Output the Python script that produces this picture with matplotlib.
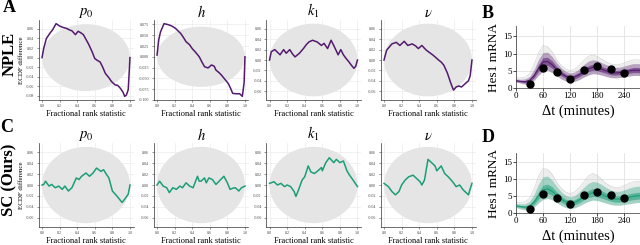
import matplotlib.pyplot as plt
from matplotlib.patches import Ellipse

plt.rcParams['font.family'] = ['Liberation Serif', 'DejaVu Serif']
plt.rcParams['mathtext.fontset'] = 'stix'

# ---- ECDF difference curves ----
npl_p0_x = [0.0, 0.02, 0.05, 0.09, 0.12, 0.16, 0.2, 0.24, 0.28, 0.31, 0.34, 0.38, 0.41, 0.44, 0.47, 0.5, 0.53,
            0.57, 0.6, 0.63, 0.66, 0.69, 0.72, 0.76, 0.79, 0.83, 0.86, 0.89, 0.92, 0.94, 0.96, 0.98, 1.0]
npl_p0_y = [0.0, 0.02, 0.04, 0.051, 0.058, 0.071, 0.066, 0.063, 0.061, 0.058, 0.056, 0.048, 0.055, 0.052, 0.048,
            0.038, 0.028, 0.012, -0.002, -0.006, -0.009, -0.02, -0.033, -0.042, -0.05, -0.057, -0.058, -0.064,
            -0.072, -0.081, -0.078, -0.067, 0.0]

npl_h_x = [0.0, 0.02, 0.04, 0.08, 0.12, 0.15, 0.18, 0.21, 0.24, 0.27, 0.3, 0.33, 0.37, 0.4, 0.44, 0.48, 0.51,
           0.54, 0.58, 0.62, 0.65, 0.67, 0.7, 0.73, 0.77, 0.81, 0.84, 0.86, 0.9, 0.94, 0.97, 0.99, 1.0]
npl_h_y = [0.004, 0.04, 0.058, 0.077, 0.075, 0.073, 0.07, 0.066, 0.06, 0.054, 0.045, 0.035, 0.028, 0.019, 0.01,
           0.0, -0.012, -0.023, -0.026, -0.019, -0.022, -0.031, -0.036, -0.042, -0.052, -0.062, -0.075, -0.085,
           -0.086, -0.086, -0.092, -0.06, 0.0]

npl_k1_x = [0.0, 0.02, 0.06, 0.09, 0.12, 0.16, 0.19, 0.23, 0.26, 0.29, 0.34, 0.39, 0.42, 0.45, 0.49, 0.52,
            0.54, 0.59, 0.62, 0.66, 0.7, 0.73, 0.78, 0.81, 0.84, 0.87, 0.9, 0.93, 0.96, 0.98, 1.0]
npl_k1_y = [0.0, 0.016, 0.02, 0.015, 0.01, 0.02, 0.013, 0.02, 0.012, 0.006, 0.013, 0.023, 0.03, 0.035, 0.038,
            0.036, 0.035, 0.028, 0.032, 0.022, 0.038, 0.028, 0.01, 0.02, 0.01, 0.003, -0.003, -0.01, -0.016,
            -0.012, 0.0]

npl_v_x = [0.0, 0.03, 0.06, 0.09, 0.14, 0.18, 0.23, 0.27, 0.32, 0.36, 0.39, 0.43, 0.48, 0.52, 0.56, 0.62, 0.65,
           0.68, 0.72, 0.76, 0.79, 0.82, 0.85, 0.88, 0.92, 0.96, 0.98, 1.0]
npl_v_y = [0.0, 0.019, 0.025, 0.031, 0.034, 0.028, 0.036, 0.028, 0.031, 0.027, 0.022, 0.028, 0.019, 0.014,
           0.009, 0.0, -0.004, -0.01, -0.025, -0.045, -0.058, -0.052, -0.05, -0.052, -0.046, -0.04, -0.03, 0.0]

sc_p0_x = [0.0, 0.02, 0.04, 0.08, 0.11, 0.15, 0.19, 0.23, 0.26, 0.3, 0.34, 0.39, 0.42, 0.45, 0.5, 0.54, 0.58,
           0.62, 0.67, 0.7, 0.73, 0.76, 0.8, 0.85, 0.88, 0.91, 0.94, 0.98, 1.0]
sc_p0_y = [0.0, 0.001, 0.007, -0.002, 0.001, -0.005, -0.002, -0.008, -0.002, -0.011, -0.005, 0.013, 0.01,
           0.016, 0.022, 0.016, 0.022, 0.031, 0.025, 0.028, 0.02, 0.013, -0.011, -0.02, -0.026, -0.032, -0.026,
           -0.017, 0.0]

sc_h_x = [0.0, 0.03, 0.07, 0.11, 0.14, 0.18, 0.22, 0.26, 0.29, 0.33, 0.37, 0.41, 0.46, 0.48, 0.5, 0.54, 0.56,
          0.59, 0.63, 0.67, 0.7, 0.76, 0.8, 0.83, 0.86, 0.89, 0.93, 0.96, 1.0]
sc_h_y = [0.0, 0.007, -0.002, -0.005, -0.014, -0.005, -0.008, -0.002, -0.005, 0.004, -0.002, -0.005, 0.016,
          0.007, 0.007, 0.013, 0.004, 0.013, 0.01, 0.001, 0.006, 0.016, 0.004, -0.008, -0.006, -0.005, -0.011,
          -0.005, -0.002]

sc_k1_x = [0.0, 0.05, 0.09, 0.13, 0.17, 0.2, 0.24, 0.28, 0.3, 0.33, 0.37, 0.4, 0.44, 0.47, 0.51, 0.55, 0.59,
           0.6, 0.64, 0.68, 0.73, 0.76, 0.8, 0.84, 0.88, 0.91, 0.95, 1.0]
sc_k1_y = [0.003, 0.006, 0.0, 0.003, -0.003, 0.0, -0.003, -0.012, -0.021, -0.009, 0.009, 0.015, 0.035, 0.024,
           0.021, 0.026, 0.032, 0.026, 0.041, 0.05, 0.041, 0.047, 0.041, 0.044, 0.026, 0.018, 0.009, -0.003]

sc_v_x = [0.0, 0.05, 0.09, 0.13, 0.17, 0.2, 0.24, 0.28, 0.33, 0.37, 0.41, 0.43, 0.46, 0.5, 0.54, 0.58, 0.6,
          0.65, 0.69, 0.73, 0.78, 0.82, 0.86, 0.9, 0.96, 0.97, 1.0]
sc_v_y = [0.003, -0.003, -0.012, -0.018, -0.012, 0.0, 0.009, 0.015, 0.018, 0.012, 0.006, 0.0, 0.009, 0.047,
          0.041, 0.035, 0.026, 0.035, 0.021, 0.015, 0.006, -0.003, 0.0, -0.009, -0.018, -0.012, 0.003]

band = 0.07          # half height of the grey ECDF envelope
frac_ticks = [0.0, 0.2, 0.4, 0.6, 0.8, 1.0]
yt_a = [-0.08, -0.06, -0.04, -0.02, 0.0, 0.02, 0.04, 0.06]
yt_b = [-0.1, -0.075, -0.05, -0.025, 0.0, 0.025, 0.05, 0.075]
yt_c = [-0.06, -0.04, -0.02, 0.0, 0.02, 0.04, 0.06]

# ---- Hes1 mRNA posterior predictive summaries ----
t = [0, 10, 20, 30, 40, 50, 60, 70, 80, 90, 100, 110, 120, 130, 140, 150, 160, 170, 180, 190, 200,
     210, 220, 230, 240, 250, 260, 270, 280]
b_mid = [2.2, 2.0, 1.9, 2.3, 3.6, 5.8, 7.6, 7.7, 6.8, 5.4, 4.3, 3.5, 3.1, 3.3, 3.9, 4.8, 5.6, 6.0, 5.9, 5.5,
         5.0, 4.6, 4.4, 4.5, 4.7, 5.0, 5.2, 5.2, 5.1]
b_lo1 = [2.0, 1.8, 1.6, 1.9, 3.0, 4.9, 6.5, 6.6, 5.8, 4.6, 3.6, 2.9, 2.6, 2.7, 3.3, 4.1, 4.8, 5.2, 5.1, 4.7,
         4.3, 3.9, 3.8, 3.9, 4.1, 4.3, 4.5, 4.5, 4.4]
b_hi1 = [2.4, 2.2, 2.2, 2.7, 4.3, 6.8, 8.8, 8.9, 7.9, 6.3, 5.0, 4.1, 3.6, 3.9, 4.6, 5.6, 6.5, 6.9, 6.8, 6.3,
         5.8, 5.3, 5.1, 5.2, 5.4, 5.7, 6.0, 6.0, 5.9]
b_lo2 = [1.8, 1.5, 1.2, 1.4, 2.3, 3.8, 5.0, 5.2, 4.5, 3.6, 2.7, 2.1, 1.8, 2.0, 2.5, 3.2, 3.8, 4.2, 4.1, 3.8,
         3.4, 3.1, 3.0, 3.1, 3.3, 3.5, 3.7, 3.7, 3.6]
b_hi2 = [2.7, 2.6, 2.7, 3.4, 5.4, 8.3, 10.3, 10.4, 9.2, 7.4, 5.9, 4.9, 4.4, 4.7, 5.6, 6.8, 7.8, 8.2, 8.0, 7.4,
         6.8, 6.3, 6.0, 6.1, 6.4, 6.8, 7.1, 7.1, 7.0]
b_hi3 = [3.0, 3.0, 3.2, 4.2, 6.8, 10.2, 12.3, 12.0, 10.5, 8.3, 6.6, 5.6, 5.1, 5.5, 6.6, 8.0, 9.2, 9.6, 9.2,
         8.4, 7.6, 7.0, 6.8, 6.9, 7.3, 7.8, 8.2, 8.2, 8.0]

d_mid = [2.2, 2.0, 1.8, 2.1, 3.3, 5.2, 6.9, 7.2, 6.5, 5.3, 4.2, 3.4, 3.0, 3.2, 3.9, 4.8, 5.6, 6.1, 6.0, 5.6,
         5.0, 4.5, 4.2, 4.2, 4.4, 4.7, 5.0, 5.2, 5.2]
d_lo1 = [2.0, 1.7, 1.5, 1.7, 2.6, 4.2, 5.6, 5.9, 5.3, 4.3, 3.3, 2.6, 2.3, 2.5, 3.1, 3.9, 4.6, 5.0, 4.9, 4.5,
         4.0, 3.6, 3.3, 3.3, 3.5, 3.8, 4.0, 4.2, 4.2]
d_hi1 = [2.5, 2.3, 2.2, 2.6, 4.1, 6.4, 8.3, 8.6, 7.8, 6.4, 5.1, 4.2, 3.8, 4.0, 4.8, 5.8, 6.7, 7.3, 7.2, 6.7,
         6.0, 5.5, 5.1, 5.1, 5.3, 5.7, 6.0, 6.2, 6.2]
d_lo2 = [1.7, 1.3, 1.0, 1.1, 1.8, 3.1, 4.1, 4.4, 4.0, 3.2, 2.3, 1.7, 1.4, 1.6, 2.2, 2.9, 3.5, 3.9, 3.8, 3.4,
         3.0, 2.6, 2.4, 2.4, 2.6, 2.8, 3.0, 3.2, 3.2]
d_hi2 = [2.9, 2.8, 2.8, 3.5, 5.6, 8.6, 10.8, 11.0, 9.8, 8.0, 6.4, 5.3, 4.8, 5.2, 6.3, 7.6, 8.8, 9.4, 9.2, 8.5,
         7.6, 6.9, 6.5, 6.5, 6.9, 7.4, 7.8, 8.0, 8.0]
d_hi3 = [3.2, 3.2, 3.4, 4.4, 7.2, 11.0, 13.2, 13.0, 11.5, 9.2, 7.4, 6.3, 5.8, 6.3, 7.6, 9.2, 11.0, 11.8, 11.2,
         10.0, 8.8, 8.0, 7.6, 7.7, 8.2, 8.8, 9.3, 9.5, 9.4]

obs_t = [30, 60, 90, 120, 150, 180, 210, 240]
obs_y = [1.2, 5.8, 4.6, 2.6, 5.3, 6.3, 5.5, 4.5]

purple = '#531a6e'
green = '#1b9e77'


def style_axes(ax):
    for s in ['top', 'right']:
        ax.spines[s].set_visible(False)
    for s in ['left', 'bottom']:
        ax.spines[s].set_linewidth(0.5)
        ax.spines[s].set_color('#333333')
    ax.set_axisbelow(True)


def ecdf_panel(ax, x, y, color, yticks, fmt, title, ylab):
    ax.add_patch(Ellipse((0.5, 0), 1.0, 2 * band, facecolor='#e5e5e5', edgecolor='none', zorder=1))
    ax.plot(x, y, color=color, lw=1.1, zorder=3)
    lo = min(min(y), -band)
    hi = max(max(y), band)
    pad = 0.05 * (hi - lo)
    ax.set_ylim(lo - pad, hi + pad)
    ax.set_xlim(-0.04, 1.04)
    ax.set_xticks(frac_ticks)
    ax.set_xticklabels([f'{v:.1f}' for v in frac_ticks])
    ax.set_yticks(yticks)
    ax.set_yticklabels([fmt.format(v) for v in yticks])
    ax.tick_params(labelsize=3, length=1.5, width=0.4, pad=1.5, colors='#444444')
    ax.grid(True, color='#ebebeb', lw=0.5)
    style_axes(ax)
    ax.set_title(title, fontsize=10.5, pad=2)
    ax.set_xlabel('Fractional rank statistic', fontsize=6, labelpad=1)
    if ylab:
        ax.set_ylabel('ECDF difference', fontsize=5, labelpad=1)


def traj_panel(ax, col, mid, lo1, hi1, lo2, hi2, hi3):
    ax.fill_between(t, lo2, hi3, color='#cccccc', alpha=0.35, lw=0, zorder=1)
    ax.plot(t, hi3, color='#bbbbbb', lw=0.4, alpha=0.7, zorder=1)
    ax.fill_between(t, lo2, hi2, color=col, alpha=0.35, lw=0, zorder=2)
    ax.fill_between(t, lo1, hi1, color=col, alpha=0.55, lw=0, zorder=2)
    ax.plot(t, mid, color=col, lw=0.8, zorder=3)
    ax.plot(obs_t, obs_y, 'o', color='black', ms=5, zorder=4)
    ax.set_xlim(0, 275)
    ax.set_ylim(0, 17.8)
    ax.set_xticks([0, 60, 120, 180, 240])
    ax.set_yticks([0, 5, 10, 15])
    ax.tick_params(labelsize=6.5, length=2, width=0.5, pad=1)
    ax.grid(True, color='#e2e2e2', lw=0.6)
    style_axes(ax)
    ax.set_xlabel('Δt (minutes)', fontsize=10.5, labelpad=3)
    ax.set_ylabel('Hes1 mRNA', fontsize=9.5, labelpad=2)


fig = plt.figure(figsize=(6.4, 2.45), dpi=100)
W, H = 640, 245


def box(left, top, right, bottom):
    return [left / W, 1 - bottom / H, (right - left) / W, (bottom - top) / H]


lefts = [38.5, 153.5, 266.0, 380.5]
titles = [r'$p_0$', r'$h$', r'$k_1$', r'$\nu$']
npl = [(npl_p0_x, npl_p0_y, yt_a, '{:.2f}'), (npl_h_x, npl_h_y, yt_b, '{:.3f}'),
       (npl_k1_x, npl_k1_y, yt_c, '{:.2f}'), (npl_v_x, npl_v_y, yt_c, '{:.2f}')]
sc = [(sc_p0_x, sc_p0_y), (sc_h_x, sc_h_y), (sc_k1_x, sc_k1_y), (sc_v_x, sc_v_y)]

for i in range(4):
    ax = fig.add_axes(box(lefts[i], 20, lefts[i] + 95, 100))
    x, y, yt, fmt = npl[i]
    ecdf_panel(ax, x, y, purple, yt, fmt, titles[i], i == 0)
    ax = fig.add_axes(box(lefts[i], 143, lefts[i] + 95, 227))
    ecdf_panel(ax, sc[i][0], sc[i][1], green, yt_c, '{:.2f}', titles[i], i == 0)

axb = fig.add_axes(box(516, 26.5, 640, 88.3))
traj_panel(axb, purple, b_mid, b_lo1, b_hi1, b_lo2, b_hi2, b_hi3)
axd = fig.add_axes(box(516, 153, 640, 213.3))
traj_panel(axd, green, d_mid, d_lo1, d_hi1, d_lo2, d_hi2, d_hi3)

letter = dict(fontsize=13, fontweight='bold', ha='center', va='center')
row = dict(fontsize=12, fontweight='bold', ha='center', va='center', rotation=90)
fig.text(9 / W, 1 - 8 / H, 'A', **letter)
fig.text(7 / W, 1 - 127 / H, 'C', **letter)
fig.text(488 / W, 1 - 13 / H, 'B', **letter)
fig.text(488 / W, 1 - 138 / H, 'D', **letter)
fig.text(10 / W, 1 - 54 / H, 'NPLE', **row)
fig.text(9 / W, 1 - 180 / H, 'SC (Ours)', **row)

fig.savefig('out.png', dpi=100)
